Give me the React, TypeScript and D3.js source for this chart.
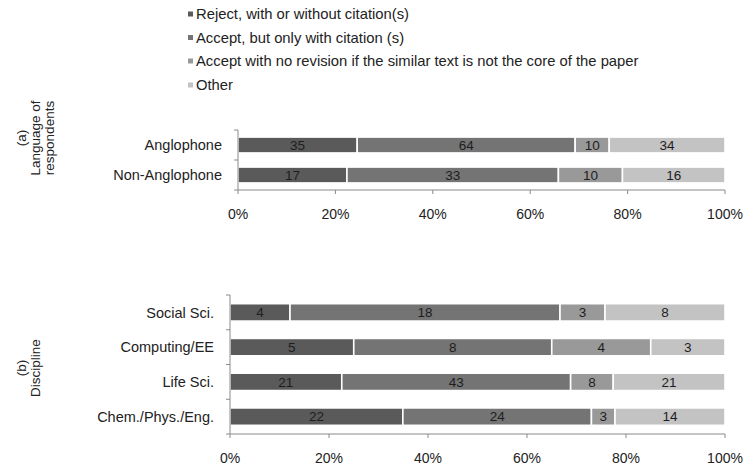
import React from "react";
import * as d3 from "d3";

const seriesNames = [
  "Reject, with or without citation(s)",
  "Accept, but only with citation (s)",
  "Accept with no revision if the similar text is not the core of the paper",
  "Other",
];
const colors = ["#5a5a5a", "#747474", "#999999", "#c3c3c3"];

const categoriesA = ["Anglophone", "Non-Anglophone"];
const rejectA = [35, 17];
const citeA = [64, 33];
const noRevA = [10, 10];
const otherA = [34, 16];

const categoriesB = ["Social Sci.", "Computing/EE", "Life Sci.", "Chem./Phys./Eng."];
const rejectB = [4, 5, 21, 22];
const citeB = [18, 8, 43, 24];
const noRevB = [3, 4, 8, 3];
const otherB = [8, 3, 21, 14];

const tickValues = [0, 0.2, 0.4, 0.6, 0.8, 1];

const FONT = "'Liberation Sans', Arial, sans-serif";

type PanelProps = {
  cats: string[];
  series: number[][];
  x0: number;
  x1: number;
  y0: number;
  y1: number;
  padding: number;
  titleLines: string[];
  titleY: number;
};

function Panel({ cats, series, x0, x1, y0, y1, padding, titleLines, titleY }: PanelProps) {
  const x = d3.scaleLinear().domain([0, 1]).range([x0, x1]);
  const y = d3.scaleBand<string>().domain(cats).range([y0, y1]).paddingInner(padding).paddingOuter(padding / 2);
  const fmt = d3.format(".0%");
  const yTicks = d3.range(cats.length + 1).map((i) => y0 + (i * (y1 - y0)) / cats.length);
  return (
    <g>
      {cats.map((c, ci) => {
        const vals = series.map((s) => s[ci]);
        const total = d3.sum(vals);
        let acc = 0;
        return (
          <g key={c}>
            {vals.map((v, si) => {
              const a = acc / total;
              acc += v;
              const b = acc / total;
              const xa = x(a);
              const xb = x(b);
              return (
                <g key={si}>
                  <rect
                    x={xa}
                    y={y(c)!}
                    width={xb - xa}
                    height={y.bandwidth()}
                    fill={colors[si]}
                    stroke="#ffffff"
                    strokeWidth={1.6}
                  />
                  <text
                    x={(xa + xb) / 2}
                    y={y(c)! + y.bandwidth() / 2}
                    dy="0.36em"
                    textAnchor="middle"
                    fontSize={13.5}
                    fill="#1e1e1e"
                  >
                    {v}
                  </text>
                </g>
              );
            })}
            <text
              x={x0 - 16}
              y={y(c)! + y.bandwidth() / 2}
              dy="0.36em"
              textAnchor="end"
              fontSize={14.5}
              fill="#222"
            >
              {c}
            </text>
          </g>
        );
      })}
      <line x1={x0} x2={x0} y1={y0} y2={y1} stroke="#8a8a8a" strokeWidth={1} />
      {yTicks.map((t, i) => (
        <line key={i} x1={x0 - 4} x2={x0} y1={t} y2={t} stroke="#8a8a8a" />
      ))}
      <line x1={x0} x2={x1} y1={y1} y2={y1} stroke="#8a8a8a" strokeWidth={1} />
      {tickValues.map((t) => (
        <g key={t}>
          <line x1={x(t)} x2={x(t)} y1={y1} y2={y1 + 4} stroke="#8a8a8a" />
          <text x={x(t)} y={y1 + 29} textAnchor="middle" fontSize={14} fill="#222">
            {fmt(t)}
          </text>
        </g>
      ))}
      <text transform={`translate(0,${titleY}) rotate(-90)`} textAnchor="middle" fontSize={13.5} fill="#222">
        {titleLines.map((l, i) => (
          <tspan key={i} x={0} y={26 + i * 14}>
            {l}
          </tspan>
        ))}
      </text>
    </g>
  );
}

export default function App() {
  const legendY = [14, 37.5, 61, 85];
  return (
    <svg width={748} height={469} style={{ position: "absolute", left: 0, top: 0, background: "#fff" }} fontFamily={FONT}>
      <rect width={748} height={469} fill="#fff" />
      {seriesNames.map((n, i) => (
        <g key={n}>
          <rect x={188} y={legendY[i] - 2.5} width={5} height={5} fill={colors[i]} />
          <text x={196} y={legendY[i]} dy="0.36em" fontSize={14.8} fill="#222">
            {n}
          </text>
        </g>
      ))}
      <Panel
        cats={categoriesA}
        series={[rejectA, citeA, noRevA, otherA]}
        x0={238}
        x1={725}
        y0={130}
        y1={190}
        padding={0.47}
        titleLines={["(a)", "Language of", "respondents"]}
        titleY={138}
      />
      <Panel
        cats={categoriesB}
        series={[rejectB, citeB, noRevB, otherB]}
        x0={230}
        x1={725}
        y0={295}
        y1={434}
        padding={0.5}
        titleLines={["(b)", "Discipline"]}
        titleY={368}
      />
    </svg>
  );
}
